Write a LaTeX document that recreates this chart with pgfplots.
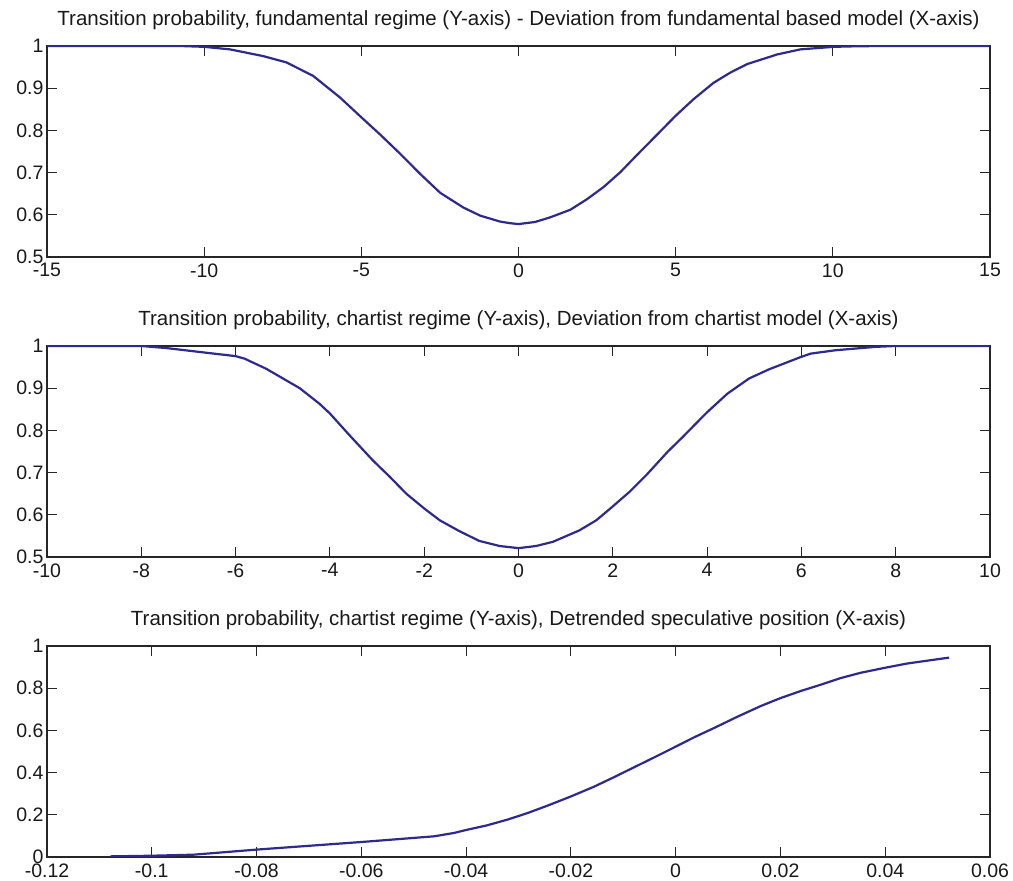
\documentclass[border=0pt]{standalone}
\usepackage{fontspec}
\setmainfont{Liberation Sans}
\usepackage{pgfplots}
\pgfplotsset{compat=1.18}
\definecolor{curve}{RGB}{46,41,140}
\pgfplotsset{
  panel/.style={
    scale only axis, width=943pt, height=211pt, anchor=south west,
    axis line style={line width=1.3pt, black!85},
    tick style={line width=1pt, black!85},
    tick align=inside, major tick length=10pt,
    ticklabel style={font=\fontsize{19.5}{22}\selectfont, text=black!90},
    xticklabel style={yshift=-3pt},
    /pgf/number format/assume math mode=true,
    title style={at={(0.5,1)}, anchor=base, yshift=14pt,
      font=\fontsize{20.5}{23}\selectfont, text=black!90},
  },
  curve/.style={color=curve, line width=2.2pt, no marks},
}
\begin{document}
\begin{tikzpicture}
\useasboundingbox (0,0) rectangle (1013pt,881pt);

\begin{axis}[panel, at={(47pt,624pt)},
  xmin=-15, xmax=15, ymin=0.5, ymax=1,
  xtick={-15,-10,-5,0,5,10,15}, xticklabels={-15,-10,-5,0,5,10,15},
  ytick={0.5,0.6,0.7,0.8,0.9,1}, yticklabels={0.5,0.6,0.7,0.8,0.9,1},
  title={Transition probability, fundamental regime (Y-axis) - Deviation from fundamental based model (X-axis)}]
\addplot[curve] coordinates {
(-15,1) (-12,1) (-10.77,1) (-10,0.998) (-9.18,0.992) (-8.12,0.976)
(-7.38,0.961) (-6.53,0.929) (-5.68,0.878) (-5,0.831) (-4.40,0.790)
(-3.77,0.745) (-3.13,0.697) (-2.49,0.652) (-1.75,0.617) (-1.22,0.598)
(-0.59,0.584) (-0.26,0.580) (0,0.578) (0.53,0.583) (1.01,0.594)
(1.65,0.612) (2.18,0.637) (2.71,0.666) (3.24,0.701) (3.72,0.738)
(4.41,0.790) (4.99,0.834) (5.57,0.874) (6.21,0.913) (6.74,0.937)
(7.27,0.957) (8.23,0.980) (8.97,0.992) (10.03,0.998) (10.56,0.999)
(11.5,1) (15,1)};
\end{axis}

\begin{axis}[panel, at={(47pt,324pt)},
  xmin=-10, xmax=10, ymin=0.5, ymax=1,
  xtick={-10,-8,-6,-4,-2,0,2,4,6,8,10}, xticklabels={-10,-8,-6,-4,-2,0,2,4,6,8,10},
  ytick={0.5,0.6,0.7,0.8,0.9,1}, yticklabels={0.5,0.6,0.7,0.8,0.9,1},
  title={Transition probability, chartist regime (Y-axis), Deviation from chartist model (X-axis)}]
\addplot[curve] coordinates {
(-10,1) (-8,1) (-7.46,0.995) (-6.62,0.984) (-6,0.976) (-5.81,0.970)
(-5.35,0.946) (-4.64,0.900) (-4.22,0.863) (-4,0.840) (-3.58,0.788)
(-3.09,0.729) (-2.73,0.690) (-2.38,0.650) (-2,0.615) (-1.67,0.587)
(-1.25,0.561) (-0.83,0.538) (-0.40,0.526) (0,0.521) (0.37,0.526)
(0.73,0.536) (1.29,0.563) (1.65,0.587) (1.98,0.618) (2.35,0.654)
(2.71,0.694) (3.16,0.749) (3.48,0.784) (3.99,0.842) (4.43,0.887)
(4.89,0.923) (5.32,0.945) (5.99,0.974) (6.20,0.982) (6.73,0.990)
(7.58,0.998) (8,1) (10,1)};
\end{axis}

\begin{axis}[panel, at={(47pt,24pt)},
  xmin=-0.12, xmax=0.06, ymin=0, ymax=1,
  xtick={-0.12,-0.1,-0.08,-0.06,-0.04,-0.02,0,0.02,0.04,0.06},
  xticklabels={-0.12,-0.1,-0.08,-0.06,-0.04,-0.02,0,0.02,0.04,0.06},
  ytick={0,0.2,0.4,0.6,0.8,1}, yticklabels={0,0.2,0.4,0.6,0.8,1},
  title={Transition probability, chartist regime (Y-axis), Detrended speculative position (X-axis)}]
\addplot[curve] coordinates {
(-0.1079,0.003) (-0.1,0.006) (-0.092,0.011) (-0.080,0.035) (-0.060,0.071)
(-0.0461,0.098) (-0.0423,0.114) (-0.040,0.128) (-0.036,0.150)
(-0.032,0.178) (-0.0283,0.208) (-0.0245,0.243) (-0.02,0.287)
(-0.0156,0.333) (-0.0118,0.378) (-0.0073,0.433) (-0.0041,0.472)
(0,0.523) (0.0035,0.567) (0.0073,0.611) (0.0118,0.665) (0.0162,0.715)
(0.02,0.753) (0.0239,0.787) (0.027,0.811) (0.0315,0.848) (0.0353,0.873)
(0.04,0.897) (0.0442,0.917) (0.0522,0.945)};
\end{axis}
\end{tikzpicture}
\end{document}
